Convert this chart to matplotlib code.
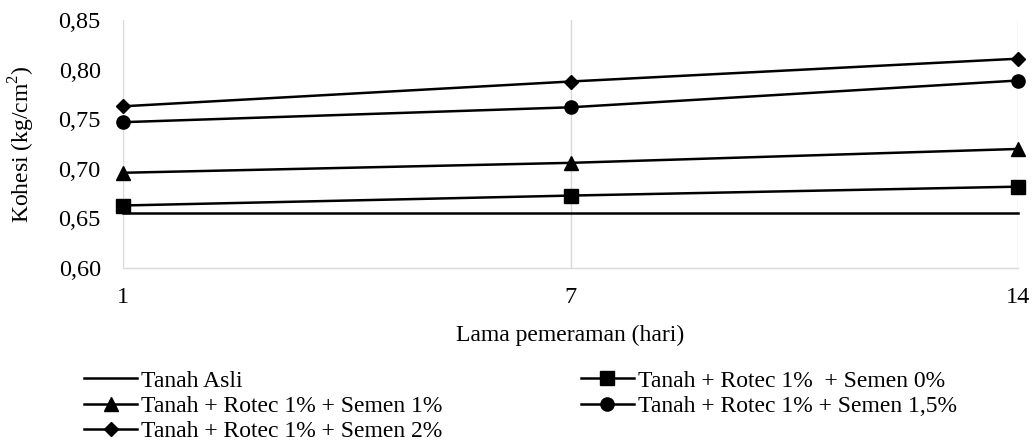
import matplotlib
matplotlib.use("Agg")
import matplotlib.pyplot as plt

days = ["1", "7", "14"]
tanah_asli = [0.655, 0.655, 0.655]
semen_0 = [0.663, 0.673, 0.682]
semen_1 = [0.696, 0.706, 0.720]
semen_15 = [0.747, 0.762, 0.789]
semen_2 = [0.763, 0.788, 0.811]
yticks = [0.60, 0.65, 0.70, 0.75, 0.80, 0.85]
ytick_labels = ["0,60", "0,65", "0,70", "0,75", "0,80", "0,85"]

plt.rcParams['font.family'] = ['Liberation Serif', 'DejaVu Serif']
plt.rcParams['mathtext.fontset'] = 'custom'
plt.rcParams['mathtext.rm'] = 'Liberation Serif'

FS = 17

fig = plt.figure(figsize=(10.35, 4.44), dpi=100)
ax = fig.add_axes([123/1035, 1 - 268/444, (1018-123)/1035, (268-20)/444])

x = list(range(len(days)))
series = [
    ("Tanah Asli", tanah_asli, None, 0),
    ("Tanah + Rotec 1%  + Semen 0%", semen_0, "s", 10),
    ("Tanah + Rotec 1% + Semen 1%", semen_1, "^", 10),
    ("Tanah + Rotec 1% + Semen 1,5%", semen_15, "o", 9.5),
    ("Tanah + Rotec 1% + Semen 2%", semen_2, "D", 7),
]
handles = {}
for name, vals, mk, ms in series:
    h, = ax.plot(x, vals, color="black", lw=1.8, marker=mk, markersize=ms,
                 label=name, zorder=3, clip_on=False)
    handles[name] = h

ax.set_xlim(0, 2)
ax.set_ylim(0.60, 0.85)
ax.set_xticks(x)
ax.set_xticklabels(days)
ax.set_yticks(yticks)
ax.set_yticklabels(ytick_labels)
ax.tick_params(axis='both', length=0, labelsize=17.5, colors='black')
ax.tick_params(axis='x', pad=14)
ax.tick_params(axis='y', pad=16)
ax.grid(axis='x', color='#d9d9d9', lw=1)
for s in ['top', 'right', 'left']:
    ax.spines[s].set_visible(False)
ax.spines['bottom'].set_color('#d9d9d9')
ax.spines['bottom'].set_linewidth(1)

ax.set_xlabel("Lama pemeraman (hari)", fontsize=FS)
ax.xaxis.set_label_coords(0.5, (268 - 335) / 248, transform=ax.transAxes)
ax.xaxis.label.set_va('center')
ax.set_ylabel("Kohesi (kg/cm$^2$)", fontsize=FS)
ax.yaxis.set_label_coords((22 - 123) / 895, 0.5, transform=ax.transAxes)
ax.yaxis.label.set_va('center')

order = ["Tanah Asli", "Tanah + Rotec 1% + Semen 1%", "Tanah + Rotec 1% + Semen 2%",
         "Tanah + Rotec 1%  + Semen 0%", "Tanah + Rotec 1% + Semen 1,5%"]
leg = fig.legend([handles[n] for n in order], order, ncol=2, loc='upper left',
                 bbox_to_anchor=(84/1035, 1 - 370/444), frameon=False, fontsize=FS,
                 handlelength=2.25, handletextpad=0.17, columnspacing=5.85,
                 labelspacing=0.16, borderpad=0, borderaxespad=0)

fig.savefig("out.png", dpi=100)
